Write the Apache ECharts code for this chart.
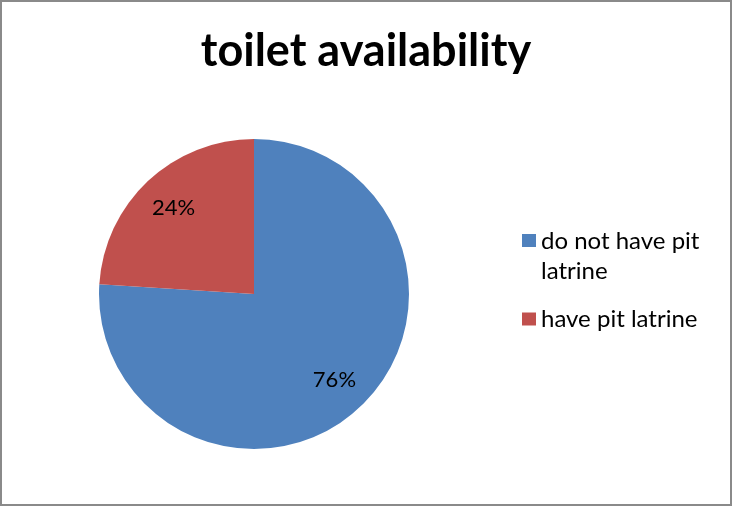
<!DOCTYPE html>
<html>
<head>
<meta charset="utf-8">
<script src="https://cdn.jsdelivr.net/npm/echarts@6/dist/echarts.min.js"></script>
<style>
  html, body { margin: 0; padding: 0; background: #fff; }
  #main { width: 732px; height: 506px; box-sizing: border-box; border: 2px solid #8a8a8a; }
</style>
</head>
<body>
<div id="main"></div>
<script>
var categories = ['do not have pit latrine', 'have pit latrine'];
var values = [76, 24];
var colors = ['#4F81BD', '#C0504D'];

var myChart = echarts.init(document.getElementById('main'));

var pieData = categories.map(function (name, i) {
    return { name: name, value: values[i], itemStyle: { color: colors[i] } };
});

var legendText = { fontFamily: 'Lato', fontSize: 24, color: '#000', lineHeight: 30 };

var option = {
    animation: false,
    title: {
        text: 'toilet availability',
        left: 'center',
        top: 22,
        textStyle: { fontFamily: 'Lato', fontWeight: 'bold', fontSize: 45, color: '#000' }
    },
    legend: [{
        // wrapped item: square sits beside the first line, as in the original
        orient: 'vertical',
        left: 520,
        top: 224,
        padding: 0,
        itemWidth: 14,
        itemHeight: 60,
        data: [{
            name: categories[0],
            icon: 'path://M0,8h14v13h-14z M0,0h0.01v0.01h-0.01z M0,60h0.01v0.01h-0.01z'
        }],
        formatter: function () { return 'do not have pit\nlatrine'; },
        textStyle: legendText
    }, {
        orient: 'vertical',
        left: 520,
        top: 302,
        padding: 0,
        itemWidth: 14,
        itemHeight: 13,
        icon: 'rect',
        data: [categories[1]],
        textStyle: legendText
    }],
    series: [{
        type: 'pie',
        center: [252, 292],
        radius: [0, 155],
        startAngle: 90,
        clockwise: true,
        label: { show: false },
        labelLine: { show: false },
        data: pieData
    }, {
        // label-only ring so the percent text sits near the outer part of the slices
        type: 'pie',
        center: [252, 292],
        radius: [74, 155],
        startAngle: 90,
        clockwise: true,
        silent: true,
        legendHoverLink: false,
        itemStyle: { color: 'rgba(0,0,0,0)' },
        label: {
            show: true,
            position: 'inside',
            formatter: '{c}%',
            fontFamily: 'Lato',
            fontSize: 22,
            color: '#000'
        },
        labelLine: { show: false },
        data: categories.map(function (name, i) {
            return { name: name + ' ', value: values[i] };
        })
    }]
};

myChart.setOption(option);
</script>
</body>
</html>
